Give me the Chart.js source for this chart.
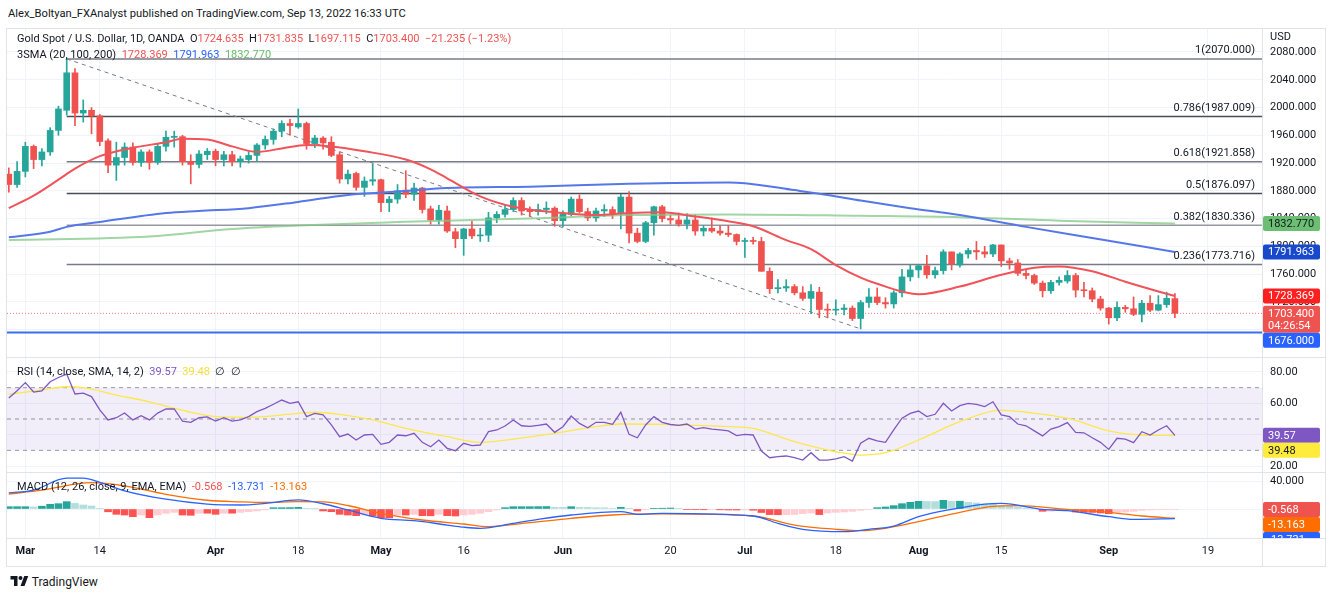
<!DOCTYPE html>
<html>
<head>
<meta charset="utf-8">
<title>XAUUSD 1D</title>
<script src="https://cdn.jsdelivr.net/npm/chart.js@4.4.1/dist/chart.umd.min.js"></script>
<style>
  html, body { margin: 0; padding: 0; background: #fff; }
  body { width: 1332px; height: 597px; position: relative; overflow: hidden;
         font-family: Roboto, "Liberation Sans", sans-serif; color: #131722; }
  .abs { position: absolute; white-space: nowrap; }
  .t { font-size: 11px; line-height: 12px; }
  canvas { position: absolute; left: 7px; }
  .r { color: #ef5350; } .b { color: #2962ff; } .g { color: #66bb6a; }
  .p { color: #7e57c2; } .y { color: #f5e03b; } .o { color: #ff6d00; }
  .sep { position: absolute; background: #e0e3eb; }
</style>
</head>
<body>
<div class="abs t" style="left:8px;top:8px;font-size:11.2px">Alex_Boltyan_FXAnalyst published on TradingView.com, Sep 13, 2022 16:33 UTC</div>
<div class="abs" style="left:6px;top:28px;width:1318px;height:537px;border:1px solid #e0e3eb"></div>

<canvas id="price" width="1319" height="328" style="top:29px"></canvas>
<canvas id="rsi" width="1319" height="115" style="top:357px"></canvas>
<canvas id="macd" width="1319" height="95" style="top:472px"></canvas>

<div class="sep" style="left:7px;top:357px;width:1319px;height:1px"></div>
<div class="sep" style="left:7px;top:472px;width:1319px;height:1px"></div>
<div class="sep" style="left:7px;top:538px;width:1319px;height:1px"></div>
<div class="sep" style="left:1262px;top:29px;width:1px;height:537px"></div>

<div class="abs t" style="left:17px;top:33px">Gold Spot / U.S. Dollar, 1D, OANDA&nbsp; O<span class="r">1724.635</span>&nbsp; H<span class="r">1731.835</span>&nbsp; L<span class="r">1697.115</span>&nbsp; C<span class="r">1703.400</span>&nbsp; <span class="r">−21.235 (−1.23%)</span></div>
<div class="abs t" style="left:17px;top:49px">3SMA (20, 100, 200)&nbsp; <span class="r">1728.369</span>&nbsp; <span class="b">1791.963</span>&nbsp; <span class="g">1832.770</span></div>
<div class="abs t" style="left:1270px;top:31px">USD</div>
<div class="abs t" style="left:17px;top:366px">RSI (14, close, SMA, 14, 2)&nbsp; <span class="p">39.57</span>&nbsp; <span class="y">39.48</span>&nbsp; ∅&nbsp; ∅</div>
<div class="abs t" style="left:17px;top:481px">MACD (12, 26, close, 9, EMA, EMA)&nbsp; <span class="r">-0.568</span>&nbsp; <span class="b">-13.731</span>&nbsp; <span class="o">-13.163</span></div>
<div class="abs" style="left:10px;top:575px;font-size:12px;line-height:14px">
  <svg width="19" height="12" viewBox="0 0 36 24" style="vertical-align:-1px"><path d="M14 22H7V9H0V2h14v20zM28 22h-8l7.5-20h8L28 22zM20 2a4 4 0 100 8 4 4 0 000-8z" fill="#131722"/></svg>
  TradingView</div>

<script>
// --- data: daily candles, index 0 = Feb 25 2022, one step per trading day ---
const opens = [1904,1889,1908,1944,1925,1936,1967,1996,2050,1992,1996,
  1988,1952,1917,1928,1943,1921,1936,1921,1944,1957,
  1958,1922,1918,1932,1937,1925,1932,1922,1925,1931,
  1946,1954,1966,1977,1972,1977,1948,1956,1950,1932,
  1897,1905,1885,1894,1896,1863,1868,1881,1875,1884,
  1854,1838,1851,1821,1811,1825,1815,1816,1841,1846,
  1853,1866,1852,1850,1853,1855,1837,1846,1868,1850,
  1841,1851,1853,1847,1871,1819,1807,1834,1857,1840,
  1838,1832,1838,1822,1826,1822,1819,1817,1807,1808,
  1807,1764,1739,1740,1742,1733,1725,1734,1709,1708,
  1709,1711,1696,1719,1727,1719,1717,1733,1756,1766,
  1772,1759,1765,1792,1773,1789,1794,1792,1789,1802,
  1779,1776,1761,1758,1747,1736,1748,1750,1758,1737,
  1736,1724,1711,1697,1712,1710,1702,1718,1708,1716,
  1724.635];
const highs = [1913,1922,1950,1946,1941,1971,2002,2070,2056,2011,2000,
  1990,1955,1950,1949,1949,1939,1939,1948,1966,1966,
  1960,1932,1938,1941,1940,1937,1937,1930,1936,1948,
  1959,1969,1981,1983,1998,1979,1960,1958,1958,1936,
  1910,1907,1900,1919,1897,1872,1889,1909,1891,1885,
  1858,1859,1858,1826,1826,1836,1826,1849,1850,1859,
  1870,1870,1857,1861,1864,1857,1851,1871,1874,1855,
  1855,1860,1857,1875,1879,1826,1836,1858,1859,1845,
  1848,1847,1845,1830,1841,1830,1830,1818,1812,1813,
  1813,1769,1752,1752,1745,1742,1745,1741,1717,1723,
  1716,1714,1722,1739,1740,1726,1736,1767,1773,1774,
  1787,1770,1795,1792,1791,1797,1807,1800,1803,1802,
  1783,1781,1767,1760,1750,1751,1756,1765,1761,1748,
  1740,1728,1712,1720,1715,1727,1722,1729,1729,1734,
  1731.835];
const lows = [1878,1885,1900,1912,1916,1931,1960,1989,1974,1979,1962,
  1945,1906,1895,1917,1917,1915,1911,1918,1937,1943,
  1917,1890,1913,1925,1916,1916,1916,1914,1920,1922,
  1940,1947,1958,1960,1970,1940,1942,1940,1929,1891,
  1890,1881,1872,1888,1850,1850,1862,1870,1866,1848,
  1832,1832,1820,1798,1787,1811,1807,1807,1834,1842,
  1850,1845,1843,1845,1847,1829,1828,1844,1848,1837,
  1836,1843,1840,1825,1805,1805,1805,1816,1835,1832,
  1829,1825,1816,1815,1820,1816,1814,1802,1784,1803,
  1764,1732,1733,1735,1730,1722,1703,1697,1697,1701,
  1701,1693,1681,1712,1716,1711,1711,1727,1750,1755,
  1754,1754,1760,1766,1770,1783,1781,1784,1785,1771,
  1767,1758,1753,1745,1727,1732,1744,1747,1727,1727,
  1720,1708,1688,1693,1705,1700,1691,1706,1707,1712,
  1697.115];
const closes = [1889,1908,1944,1925,1936,1967,1998,2050,1992,1996,1988,
  1951,1917,1928,1943,1921,1936,1921,1944,1957,1958,
  1922,1918,1933,1937,1925,1932,1922,1926,1931,1946,
  1954,1966,1977,1974,1977,1948,1956,1949,1931,1897,
  1904,1885,1894,1896,1863,1868,1880,1875,1884,1853,
  1838,1852,1822,1811,1825,1815,1816,1841,1846,1853,
  1866,1851,1850,1853,1855,1837,1847,1868,1850,1841,
  1851,1853,1847,1871,1819,1807,1834,1857,1840,1838,
  1832,1838,1822,1826,1822,1819,1817,1807,1808,1807,
  1764,1739,1740,1742,1733,1725,1735,1709,1708,1709,
  1711,1696,1719,1727,1719,1717,1733,1756,1766,1772,
  1759,1765,1792,1775,1789,1794,1792,1789,1802,1779,
  1776,1761,1758,1747,1736,1748,1751,1758,1737,1736,
  1724,1711,1697,1712,1710,1702,1718,1708,1716,1725,
  1703.4];

// moving averages (bar index, value)
const sma20Idx = [0,3,6,8,11,15,19,21,24,27,30,33,36,39,43,48,51,53,57,61,67,71,75,79,83,87,90,94,97,100,103,105,110,115,120,124,127,131,135,139,141];
const sma20Val = [1855,1873,1896,1912,1930,1942,1950,1955,1954,1944,1936,1941,1946,1944,1937,1925,1911,1898,1872,1857,1848,1845,1848,1849,1843,1836,1829,1809,1796,1773,1755,1746,1731,1742,1759,1769,1771,1764,1749,1735,1728.369];
const sma100Idx = [0,5,7,11,19,23,29,35,41,47,53,63,75,87,89,95,99,103,109,115,123,131,141];
const sma100Val = [1813,1821,1828,1835,1848,1851,1855,1864,1874,1879,1884,1886,1890,1892,1891,1881,1874,1866,1855,1845,1828,1812,1791.963];
const sma200Idx = [0,17,27,35,47,53,63,75,87,103,115,127,141];
const sma200Val = [1809,1814,1825,1830,1835,1837,1840,1845,1846,1844,1842,1837,1832.77];

// fibonacci retracement drawn from the Mar 8 high
const fibStart = 7;
const fibRatios = ['1', '0.786', '0.618', '0.5', '0.382', '0.236'];
const fibLevels = [2070.000, 1987.009, 1921.858, 1876.097, 1830.336, 1773.716];
const trendIdx = [7, 103];
const trendVal = [2070, 1681];
const supportLevel = 1676;
const lastPrice = 1703.4;

// RSI (14) and its SMA
const rsi = [63.4,68,73.2,67.2,68,73.8,76.5,78.7,66,66.5,64.3,
  55.8,49.4,50.8,53.8,49.4,52.1,49.4,53.8,56.4,56.4,
  48.7,47.9,50.8,51.3,48.7,50.8,48.7,49.4,51.5,54.7,
  56.8,59.4,62.1,60,61,51.5,53.6,52.6,46.2,38.7,
  40.4,36.6,39.8,40.2,33.8,35.1,39.8,39.3,40.9,35.1,
  32.3,36.6,31.3,29.8,34.5,33,33.4,41.9,43,45.5,
  49.4,45.7,45.3,46,46.8,41.5,45.1,51.9,47.2,44.4,
  47.9,47.9,46.6,54.3,40.2,38,46.2,51.5,47.9,46.5,
  46,46.8,43.6,44.5,43.6,43,42.4,39.4,40.2,39.8,
  29.6,25.3,26,26.4,25.3,23.8,28.5,23.8,23.8,24.5,
  26,23.2,34.5,37.7,36,35.1,43,50.5,53.6,55.1,
  51.5,53,60,55.1,58.5,60,59.4,57.9,61,52.6,
  51.5,46.8,45.7,42.4,39.2,43.6,45.1,47.7,41.5,41.2,
  38,35.1,30.6,37.7,37.2,34.9,41.9,39.8,43,45.7,
  39.57];
const rsiMaIdx = [0,4,7,9,13,17,20,22,25,29,35,37,40,44,48,53,57,61,66,71,74,79,87,90,95,100,103,106,110,115,120,123,128,133,137,141];
const rsiMaVal = [65.8,68.5,70.6,70,65.3,61,56.8,54.3,51.5,51.1,53.6,54.3,53,49.4,44,38.7,35.1,37.2,40.9,45.1,46.8,46.6,45.1,44,35.5,29.1,27,28.5,36.6,48.3,55.7,54.3,50.5,42.4,39.8,39.48];
const rsiLevels = [70, 50, 30];

// MACD (12, 26, 9)
const macdHist = [3.3,3.3,3.3,3,4,6.7,7.6,10.5,8,5.7,4.3,
  1,-4,-7.6,-8.6,-11,-8.6,-12.4,-8.6,-6.2,-4.8,
  -8.6,-9,-6,-6,-7.6,-6,-6,-4.8,-3.8,-2.8,
  -1.4,1.9,1.9,2,2.4,1,0.3,-2.8,-3.8,-7.6,
  -8.6,-9.5,-8.6,-10,-12.4,-12.6,-8.6,-8.6,-7.6,-9.5,
  -9.7,-7.6,-9.5,-10,-8.6,-7.6,-6.2,-3.8,-1.4,1.9,
  3.3,3.3,3.3,3.4,3.5,2.4,2.3,3.3,2.4,2.3,
  1.9,1.8,1,2.4,1,-2.8,-0.5,1,1.1,1.4,
  1,-0.5,-1,-1.1,-1,-1.2,-1.4,-1.5,-1.3,-1.8,
  -5,-8,-8.2,-8,-7.8,-6.7,-5.7,-8,-5.7,-4.8,
  -4.3,-3.3,-1.9,-0.5,1.9,2.9,4.8,7.6,9.5,11,
  10.8,10.6,12.4,11,11.1,9.5,8.6,7,6.8,5.2,
  3.8,2.9,1.4,0.5,-3.3,-3.2,-2.4,-1.9,-4.3,-4.8,
  -4.9,-5.7,-6.7,-4.8,-4.3,-3.3,-1.9,-1.4,-1,-0.6,
  -0.568];
const macdIdx = [0,3,7,9,11,14,19,24,28,31,35,38,41,45,49,53,55,57,61,64,68,74,76,79,90,93,96,101,104,107,110,114,118,120,125,128,133,136,141];
const macdVal = [23,27,44,44,38,26,14,7,5.7,8,12.9,7.5,-1.4,-13.3,-16.7,-22.9,-26,-27.6,-20.5,-14.8,-8.6,-3.8,-7.6,-6.2,-10,-20.5,-29,-32.4,-29,-24.3,-11,-0.5,7,8,-0.5,-2.4,-11,-14.8,-13.731];
const signalIdx = [0,4,10,14,19,24,28,31,35,38,41,45,50,55,58,63,68,73,79,90,95,100,103,106,110,115,119,122,128,133,137,141];
const signalVal = [21.4,27,37.6,33,21,12.5,10.3,9.4,10.5,10.2,5,-6.2,-15.7,-21.4,-25.2,-19.5,-13.3,-8.6,-7.1,-10,-22.9,-29,-31,-27.6,-18,-4.8,3.8,4.8,-0.5,-4.8,-10,-13.163];

// time axis
const xTickIdx = [2, 11, 25, 35, 45, 55, 67, 80, 89, 100, 110, 120, 133, 145];
const xTickLabels = ['Mar', '14', 'Apr', '18', 'May', '16', 'Jun', '20', 'Jul', '18', 'Aug', '15', 'Sep', '19'];
const priceTicks = [1680, 1720, 1760, 1800, 1840, 1880, 1920, 1960, 2000, 2040, 2080];
const rsiTicks = [20, 40, 60, 80];
const macdTicks = [0, 40];

// --- layout / style ---
const FONT = 'Roboto, "Liberation Sans", sans-serif';
const FS = 11;
Chart.defaults.font.family = FONT;
Chart.defaults.font.size = FS;
Chart.defaults.color = '#131722';
Chart.defaults.animation = false;

const AXIS_W = 64;
const X_MIN = -0.22, X_MAX = 151.53;
const GRID = '#f0f3fa';
const UP = '#26a69a', DOWN = '#ef5350';

const pts = (xs, ys) => xs.map((x, k) => ({ x, y: ys[k] }));
const hline = v => [{ x: X_MIN, y: v }, { x: X_MAX, y: v }];

function lineDs(data, color, width, extra) {
    return Object.assign({
        type: 'line', data, borderColor: color, borderWidth: width,
        pointRadius: 0, fill: false, order: 2
    }, extra || {});
}

// no padding round the plot: the panes must line up with each other
function noPad(s) {
    s.paddingTop = 0; s.paddingBottom = 0; s.paddingLeft = 0; s.paddingRight = 0;
}

function xAxis(showLabels) {
    return {
        type: 'linear', min: X_MIN, max: X_MAX, offset: false,
        afterBuildTicks: s => { s.ticks = xTickIdx.map(v => ({ value: v })); },
        afterFit: s => { s.height = showLabels ? 29 : 0; noPad(s); },
        grid: { color: GRID, drawTicks: false, offset: false },
        border: { display: false },
        ticks: {
            display: showLabels, autoSkip: false, maxRotation: 0, padding: 7,
            callback: (v, i) => xTickLabels[i],
            font: c => ({ size: FS, weight: /^[A-Z]/.test(xTickLabels[c.index] || '') ? 'bold' : 'normal' })
        }
    };
}

function yAxis(min, max, ticks, digits) {
    return {
        position: 'right', min, max,
        afterBuildTicks: s => { s.ticks = ticks.map(v => ({ value: v })); },
        afterFit: s => { s.width = AXIS_W; noPad(s); },
        grid: { color: GRID, drawTicks: false },
        border: { display: false },
        ticks: { padding: 8, callback: v => Number(v).toFixed(digits) }
    };
}

// price / value tags on the right axis, pushed down when they overlap
function tagPlugin(items) {
    return {
        id: 'tags',
        afterDraw(chart) {
            const { ctx, chartArea: a, scales: { y } } = chart;
            ctx.save();
            ctx.beginPath();
            ctx.rect(a.right, a.top, chart.width - a.right, a.bottom - a.top);
            ctx.clip();
            ctx.font = FS + 'px ' + FONT;
            ctx.textBaseline = 'middle';
            ctx.textAlign = 'left';
            let floor = -Infinity;
            items.map(t => Object.assign({ py: y.getPixelForValue(t.value) }, t))
                .sort((p, q) => p.py - q.py)
                .forEach(t => {
                    const h = 15 + (t.text.length - 1) * 12;
                    const top = Math.max(t.py - 7.5, floor);
                    ctx.fillStyle = t.bg;
                    ctx.beginPath();
                    ctx.roundRect(a.right + 1, top, 57, h, 2);
                    ctx.fill();
                    ctx.fillStyle = t.fg;
                    t.text.forEach((s, k) => ctx.fillText(s, a.right + 6, top + 8 + k * 12));
                    floor = top + h;
                });
            ctx.restore();
        }
    };
}

const fibLabelPlugin = {
    id: 'fibLabels',
    afterDatasetsDraw(chart) {
        const { ctx, chartArea: a, scales: { y } } = chart;
        ctx.save();
        ctx.font = FS + 'px ' + FONT;
        ctx.fillStyle = '#131722';
        ctx.textAlign = 'right';
        ctx.textBaseline = 'bottom';
        fibLevels.forEach((lvl, k) => {
            ctx.fillText(fibRatios[k] + '(' + lvl.toFixed(3) + ')', a.right - 7, y.getPixelForValue(lvl) - 3);
        });
        ctx.restore();
    }
};

function baseOptions(showX, yCfg) {
    return {
        responsive: false,
        events: [],
        layout: { padding: 0 },
        scales: { x: xAxis(showX), y: yCfg },
        plugins: { legend: { display: false }, tooltip: { enabled: false } }
    };
}

// --- price pane ---
const idx = closes.map((_, i) => i);
const candleColors = idx.map(i => closes[i] >= opens[i] ? UP : DOWN);
const fibColors = ['#787b86', '#4a4d57', '#787b86', '#4a4d57', '#9598a1', '#787b86'];

const priceDatasets = [
    ...fibLevels.map((lvl, k) => lineDs([{ x: fibStart, y: lvl }, { x: X_MAX, y: lvl }], fibColors[k], 1.5, { order: 9 })),
    lineDs(pts(trendIdx, trendVal), '#787b86', 1, { borderDash: [4, 4], order: 8 }),
    lineDs(hline(supportLevel), '#3a6ef2', 2, { order: 8 }),
    lineDs(hline(lastPrice), 'rgba(239,83,80,0.75)', 1, { borderDash: [1, 2], order: 8 }),
    { type: 'bar', data: idx.map(i => ({ x: i, y: [lows[i], highs[i]] })), backgroundColor: candleColors,
      barThickness: 1, grouped: false, order: 6 },
    { type: 'bar', data: idx.map(i => ({ x: i, y: [opens[i], closes[i]] })), backgroundColor: candleColors,
      barThickness: 6, minBarLength: 1, grouped: false, order: 5 },
    lineDs(pts(sma200Idx, sma200Val), 'rgba(129,199,132,0.75)', 2, { cubicInterpolationMode: 'monotone', order: 3 }),
    lineDs(pts(sma100Idx, sma100Val), '#5677e8', 2, { cubicInterpolationMode: 'monotone', order: 2 }),
    lineDs(pts(sma20Idx, sma20Val), '#f05359', 2, { cubicInterpolationMode: 'monotone', order: 1 })
];

new Chart(document.getElementById('price'), {
    type: 'bar',
    data: { datasets: priceDatasets },
    options: baseOptions(false, yAxis(1640.52, 2113.14, priceTicks, 3)),
    plugins: [fibLabelPlugin, tagPlugin([
        { value: 1832.770, text: ['1832.770'], bg: '#6cbf72', fg: '#131722' },
        { value: 1791.963, text: ['1791.963'], bg: '#1848cc', fg: '#ffffff' },
        { value: 1728.369, text: ['1728.369'], bg: '#ff1f1f', fg: '#ffffff' },
        { value: lastPrice, text: ['1703.400', '04:26:54'], bg: '#ef5350', fg: '#ffffff' },
        { value: supportLevel, text: ['1676.000'], bg: '#2962ff', fg: '#ffffff' }
    ])]
});

// --- RSI pane ---
new Chart(document.getElementById('rsi'), {
    type: 'line',
    data: {
        datasets: [
            lineDs(hline(rsiLevels[0]), '#9598a1', 1, { borderDash: [4, 4], fill: { value: rsiLevels[2] },
                backgroundColor: 'rgba(126,87,194,0.1)', order: 5 }),
            lineDs(hline(rsiLevels[1]), '#9598a1', 1, { borderDash: [4, 4], order: 5 }),
            lineDs(hline(rsiLevels[2]), '#9598a1', 1, { borderDash: [4, 4], order: 5 }),
            lineDs(pts(rsiMaIdx, rsiMaVal), '#fde74c', 1.3, { cubicInterpolationMode: 'monotone', order: 2 }),
            lineDs(pts(idx, rsi), '#7e57c2', 1.3, { order: 1 })
        ]
    },
    options: baseOptions(false, yAxis(16.18, 89.57, rsiTicks, 2)),
    plugins: [tagPlugin([
        { value: 39.57, text: ['39.57'], bg: '#7e57c2', fg: '#ffffff' },
        { value: 39.48, text: ['39.48'], bg: '#ffeb3b', fg: '#131722' }
    ])]
});

// --- MACD pane ---
const histColors = macdHist.map((v, i) => {
    const prev = i > 0 ? macdHist[i - 1] : v;
    if (v >= 0) return v >= prev ? '#26a69a' : '#b2dfdb';
    return v <= prev ? '#ff5252' : '#ffcdd2';
});

new Chart(document.getElementById('macd'), {
    type: 'bar',
    data: {
        datasets: [
            { type: 'bar', data: idx.map(i => ({ x: i, y: macdHist[i] })), backgroundColor: histColors,
              barThickness: 7, grouped: false, order: 5 },
            lineDs(pts(signalIdx, signalVal), '#ff6d00', 1.3, { cubicInterpolationMode: 'monotone', order: 2 }),
            lineDs(pts(macdIdx, macdVal), '#2962ff', 1.3, { cubicInterpolationMode: 'monotone', order: 1 })
        ]
    },
    options: baseOptions(true, yAxis(-41.43, 52.86, macdTicks, 3)),
    plugins: [tagPlugin([
        { value: -0.568, text: ['-0.568'], bg: '#ef5350', fg: '#ffffff' },
        { value: -13.163, text: ['-13.163'], bg: '#ff6d00', fg: '#ffffff' },
        { value: -13.731, text: ['-13.731'], bg: '#2962ff', fg: '#ffffff' }
    ])]
});
</script>
</body>
</html>
